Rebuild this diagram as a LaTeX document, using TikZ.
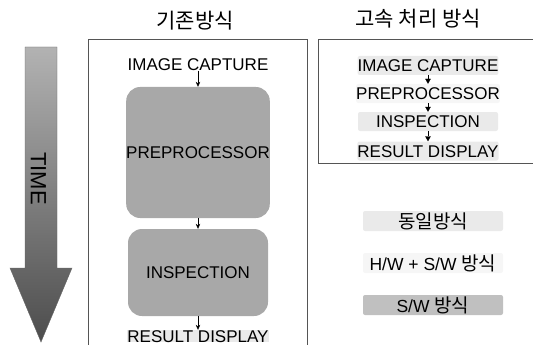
\documentclass[tikz,border=0pt]{standalone}
\usepackage{fontspec}
\setmainfont{Liberation Sans}
\newfontfamily\kor{Noto Sans CJK KR}
\usetikzlibrary{arrows.meta,calc,positioning}
\definecolor{swfill}{RGB}{168,168,168}
\definecolor{samefill}{RGB}{234,234,234}
\definecolor{hwswfill}{RGB}{246,246,246}
\definecolor{legendsw}{RGB}{192,192,192}
\definecolor{framegray}{RGB}{85,85,85}
\tikzset{
  stagetext/.style={font=\fontsize{17}{19}\selectfont,inner sep=0pt,
    text height=12pt,text depth=0pt},
  stagebox/.style={stagetext,minimum width=140,minimum height=19,
    rounded corners=2pt},
  swblock/.style={stagetext,fill=swfill,rounded corners=14pt,minimum width=140},
  title/.style={font=\kor\fontsize{21}{23}\selectfont,inner sep=0pt},
  legend/.style={font=\fontsize{17.5}{19}\selectfont,inner sep=0pt,
    minimum width=140,minimum height=20,rounded corners=2pt},
  flow/.style={-{Stealth[length=5pt,width=4.5pt]},thin,black},
  fastflow/.style={-{Triangle[length=5pt,width=5.5pt]},thin,black},
  frame/.style={draw=framegray,thin}
}
\newcommand{\korsm}{\kor\fontsize{19}{21}\selectfont}

\begin{document}
\begin{tikzpicture}[x=1pt,y=-1pt]
  \useasboundingbox (0,0) rectangle (533,345);
  \clip (0,0) rectangle (533,345);
  % time arrow
  \shade[top color=gray!60,bottom color=black!70,draw=black!60,thin]
    (25,47) -- (57,47) -- (57,268) -- (72,268) -- (41,342)
    -- (10,268) -- (25,268) -- cycle;
  \node[font=\fontsize{22}{24}\selectfont,rotate=-90,inner sep=0pt] (time) at (38.5,178.5) {TIME};
  % frames
  \draw[frame] (88,39) rectangle (307,360);
  \draw[frame] (318,39) rectangle (545,163);
  \node[title] (oldtitle) at (195,21) {기존방식};
  \node[title] (newtitle) at (418,19) {고속 처리 방식};
  % existing method
  \node[stagetext] (capture) at (198,64.5) {IMAGE CAPTURE};
  \node[swblock,minimum height=131] (prep) at (198,152.5) {PREPROCESSOR};
  \node[swblock,minimum height=87] (insp) at (198,272.5) {INSPECTION};
  \node[stagetext,fill=samefill] (result) at (198,336) {RESULT DISPLAY};
  \draw[flow] (capture) -- (prep);
  \draw[flow] (prep) -- (insp);
  \draw[flow] (insp) -- (result);
  % fast method
  \node[stagebox,fill=samefill] (fcapture) at (428,65.5) {IMAGE CAPTURE};
  \node[stagebox,fill=hwswfill] (fprep) at (428,93.5) {PREPROCESSOR};
  \node[stagebox,fill=samefill] (finsp) at (428,121.5) {INSPECTION};
  \node[stagebox,fill=samefill] (fresult) at (428,151) {RESULT DISPLAY};
  \draw[fastflow] (fcapture.south) -- (fprep.north);
  \draw[fastflow] (fprep.south) -- (finsp.north);
  \draw[fastflow] (finsp.south) -- (fresult.north);
  % legend
  \node[legend,fill=samefill] (same) at (433,221) {\korsm 동일방식};
  \node[legend,fill=hwswfill] (hwsw) at (433,263) {H/W + S/W {\korsm 방식}};
  \node[legend,fill=legendsw] (sw) at (433,305) {S/W {\korsm 방식}};
\end{tikzpicture}
\end{document}
